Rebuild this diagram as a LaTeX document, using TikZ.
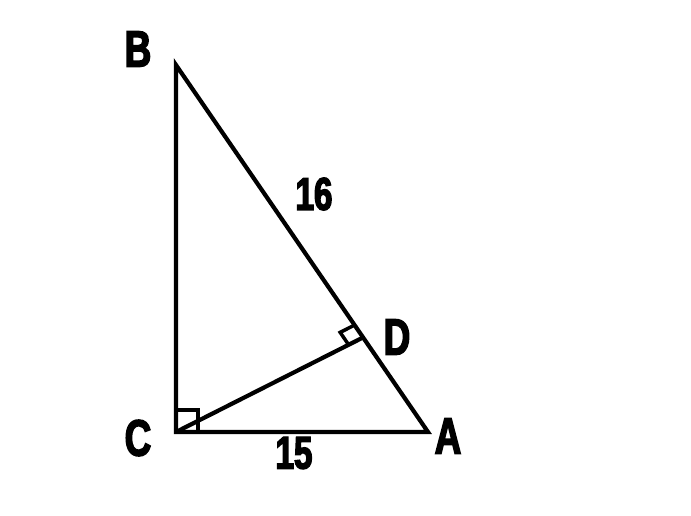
\documentclass[tikz,border=0pt]{standalone}
\usepackage{fontspec}
\usetikzlibrary{calc}
\newfontfamily\labelfont[FakeStretch=0.72,FakeBold=3]{Liberation Sans Bold}

\begin{document}
\begin{tikzpicture}[x=1pt,y=-1pt,%
% common options for the sides:
side/.style = {line width=4.2pt, line cap=round, line join=miter},
% common options for the labels:
lbl/.style = {font=\labelfont\fontsize{51}{51}\selectfont, inner sep=0},
num/.style = {font=\labelfont\fontsize{46}{46}\selectfont, inner sep=0}]
\useasboundingbox (0,0) rectangle (691,516);
\coordinate (B) at (176,65);
\coordinate (C) at (176,432);
\coordinate (A) at (428,432);
\coordinate (D) at (362,338);
\node[lbl] (LB) at (138,49) {B};
\node[lbl] (LC) at (138,438) {C};
\node[lbl] (LA) at (448,436) {A};
\node[lbl] (LD) at (397,337) {D};
\node[num] (L16) at (314,194) {16};
\node[num] (L15) at (294,453) {15};
\draw[side] (C) -- (B) -- (A) -- cycle;
\draw[side] (C) -- (D);
% right angle at C
\draw[line width=3.5pt] ($(C)+(0,-22)$) -- ++(22,0) -- ++(0,22);
% right angle at D
\coordinate (P) at ($(D)!15pt!(C)$);
\coordinate (Q) at ($(D)!15pt!(B)$);
\draw[line width=3.5pt] (P) -- ($(P)+(Q)-(D)$) -- (Q);
\end{tikzpicture}
\end{document}
